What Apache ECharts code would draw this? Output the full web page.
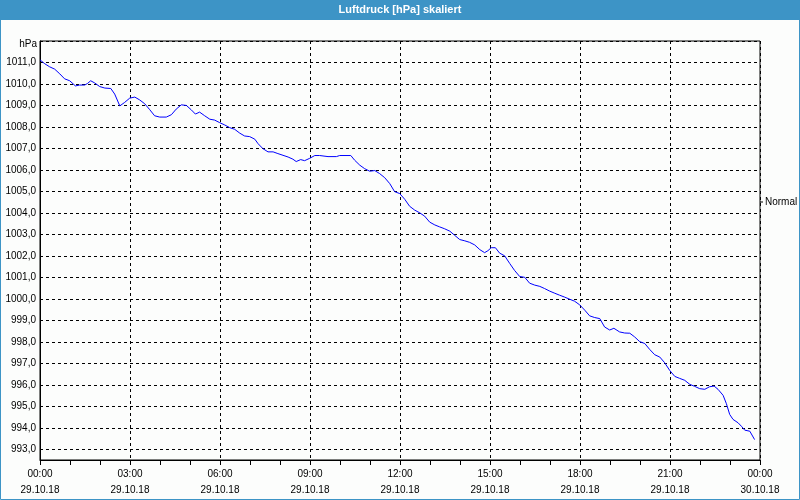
<!DOCTYPE html>
<html>
<head>
<meta charset="utf-8">
<script src="https://cdn.jsdelivr.net/npm/echarts@6/dist/echarts.min.js"></script>
<style>html,body{margin:0;padding:0;background:#fcfdfc;}#c{width:800px;height:500px;}</style>
</head>
<body>
<div id="c"></div>
<script>
const chartTitle = 'Luftdruck [hPa] skaliert';
const seriesName = 'Normal';
const unitLabel = 'hPa';
const dateLabels = ['29.10.18', '29.10.18', '29.10.18', '29.10.18', '29.10.18', '29.10.18', '29.10.18', '29.10.18', '30.10.18'];
const hours = [
  0.0, 0.16, 0.32, 0.49, 0.66, 0.82, 0.99, 1.18, 1.32, 1.49, 1.58, 1.69, 1.82, 1.99, 2.16, 2.36, 2.49, 2.66, 2.82, 2.99,
  3.16, 3.32, 3.49, 3.66, 3.82, 3.99, 4.21, 4.38, 4.54, 4.71, 4.88, 5.04, 5.18, 5.32, 5.49, 5.66, 5.82, 5.99,
  6.16, 6.32, 6.49, 6.66, 6.82, 6.99, 7.16, 7.27, 7.43, 7.6, 7.77, 7.93, 8.1, 8.27, 8.43, 8.54, 8.69, 8.82, 8.99,
  9.16, 9.32, 9.6, 9.88, 9.99, 10.36, 10.49, 10.66, 10.82, 10.99, 11.16, 11.32, 11.49, 11.66, 11.82, 11.99,
  12.16, 12.32, 12.49, 12.66, 12.82, 12.99, 13.16, 13.32, 13.49, 13.66, 13.82, 13.99, 14.16, 14.32, 14.49, 14.66, 14.82, 14.93,
  15.04, 15.18, 15.32, 15.49, 15.66, 15.82, 15.99, 16.16, 16.32, 16.49, 16.66, 16.82, 16.99, 17.16, 17.32, 17.49, 17.66, 17.82, 17.99,
  18.16, 18.32, 18.49, 18.66, 18.82, 18.99, 19.13, 19.32, 19.49, 19.66, 19.82, 19.99, 20.16, 20.32, 20.49, 20.66, 20.82, 20.99,
  21.16, 21.32, 21.49, 21.66, 21.82, 21.99, 22.16, 22.32, 22.47, 22.6, 22.77, 22.88, 22.99, 23.1, 23.27, 23.38, 23.49, 23.66, 23.82
];
const pressure = [
  1011.12, 1010.94, 1010.80, 1010.69, 1010.47, 1010.24, 1010.15, 1009.91, 1009.95, 1009.95, 1010.02, 1010.15, 1010.05, 1009.88, 1009.81, 1009.79, 1009.53, 1008.98, 1009.14, 1009.34,
  1009.39, 1009.26, 1009.08, 1008.80, 1008.52, 1008.46, 1008.46, 1008.57, 1008.83, 1009.03, 1009.00, 1008.80, 1008.60, 1008.69, 1008.52, 1008.36, 1008.32, 1008.20,
  1008.09, 1007.97, 1007.89, 1007.71, 1007.58, 1007.55, 1007.43, 1007.22, 1006.99, 1006.84, 1006.84, 1006.76, 1006.68, 1006.60, 1006.50, 1006.39, 1006.48, 1006.43, 1006.54,
  1006.67, 1006.67, 1006.62, 1006.62, 1006.67, 1006.67, 1006.45, 1006.22, 1006.06, 1005.94, 1005.97, 1005.83, 1005.64, 1005.36, 1004.99, 1004.90,
  1004.63, 1004.31, 1004.13, 1004.00, 1003.85, 1003.57, 1003.44, 1003.35, 1003.26, 1003.15, 1002.96, 1002.76, 1002.70, 1002.63, 1002.51, 1002.29, 1002.15, 1002.24,
  1002.38, 1002.38, 1002.13, 1002.00, 1001.64, 1001.32, 1001.04, 1001.00, 1000.73, 1000.64, 1000.58, 1000.48, 1000.36, 1000.26, 1000.17, 1000.08, 999.98, 999.89, 999.72,
  999.47, 999.21, 999.13, 999.08, 998.69, 998.55, 998.63, 998.46, 998.41, 998.40, 998.23, 998.01, 997.92, 997.65, 997.40, 997.29, 997.03, 996.67,
  996.39, 996.30, 996.21, 996.02, 995.93, 995.82, 995.79, 995.91, 995.94, 995.79, 995.51, 995.12, 994.62, 994.39, 994.23, 994.07, 993.89, 993.84, 993.45
];

const FONT = 'Liberation Sans';
const chart = echarts.init(document.getElementById('c'), null, {renderer: 'canvas'});
const data = hours.map((h, i) => [h, pressure[i]]);

chart.setOption({
  backgroundColor: '#fcfdfc',
  animation: false,
  textStyle: {fontFamily: FONT},
  graphic: [
    {type: 'rect', shape: {x: 0, y: 0, width: 800, height: 20}, style: {fill: '#3d94c6'}, z: 0},
    {type: 'rect', shape: {x: 0.5, y: 0.5, width: 799, height: 499}, style: {fill: null, stroke: '#3d94c6', lineWidth: 1}, z: 0},
    {type: 'text', x: 400, y: 10, style: {text: chartTitle, fill: '#ffffff', font: 'bold 11px ' + FONT, textAlign: 'center', textVerticalAlign: 'middle'}, z: 5},
    {type: 'text', x: 37, y: 44, style: {text: unitLabel, fill: '#000', font: '10px ' + FONT, textAlign: 'right', textVerticalAlign: 'middle'}, z: 5}
  ],
  legend: {
    data: [{name: seriesName, itemStyle: {color: '#000'}}],
    left: 760, top: 197, padding: 0,
    icon: 'rect', itemWidth: 3, itemHeight: 1, itemGap: 0,
    textStyle: {fontSize: 10, color: '#000', fontFamily: FONT, padding: [0, 0, 0, -3]}
  },
  grid: {left: 40, right: 40, top: 41, bottom: 40, show: true, borderColor: '#000', borderWidth: 1, containLabel: false},
  xAxis: {
    type: 'value', min: 0, max: 24, interval: 3,
    axisLine: {show: true, lineStyle: {color: '#000'}},
    axisTick: {show: true, length: 5, lineStyle: {color: '#000'}},
    minorTick: {show: true, splitNumber: 3, length: 5, lineStyle: {color: '#000'}},
    splitLine: {show: true, lineStyle: {color: '#000', type: [3, 3], width: 1}},
    axisLabel: {
      color: '#000', fontSize: 10, fontFamily: FONT, margin: 6, lineHeight: 16,
      formatter: function (v) {
        const h = Math.round(v) % 24;
        const idx = Math.round(v / 3);
        return (h < 10 ? '0' : '') + h + ':00\n' + dateLabels[idx];
      }
    }
  },
  yAxis: {
    type: 'value', min: 992.5, max: 1012, interval: 0.5,
    axisLine: {show: true, lineStyle: {color: '#000'}},
    axisTick: {show: false},
    splitLine: {show: true, lineStyle: {color: ['rgba(0,0,0,0)', '#000'], type: [3, 3], width: 1}},
    axisLabel: {
      color: '#000', fontSize: 10, fontFamily: FONT, margin: 4,
      formatter: function (v) {
        if (Math.abs(v - Math.round(v)) > 1e-6 || v >= 1012) return '';
        return v.toFixed(1).replace('.', ',');
      }
    }
  },
  series: [{
    name: seriesName, type: 'line', data: data, showSymbol: false, smooth: false,
    lineStyle: {color: '#0000ff', width: 1}, itemStyle: {color: '#0000ff'}
  }]
});
</script>
</body>
</html>
